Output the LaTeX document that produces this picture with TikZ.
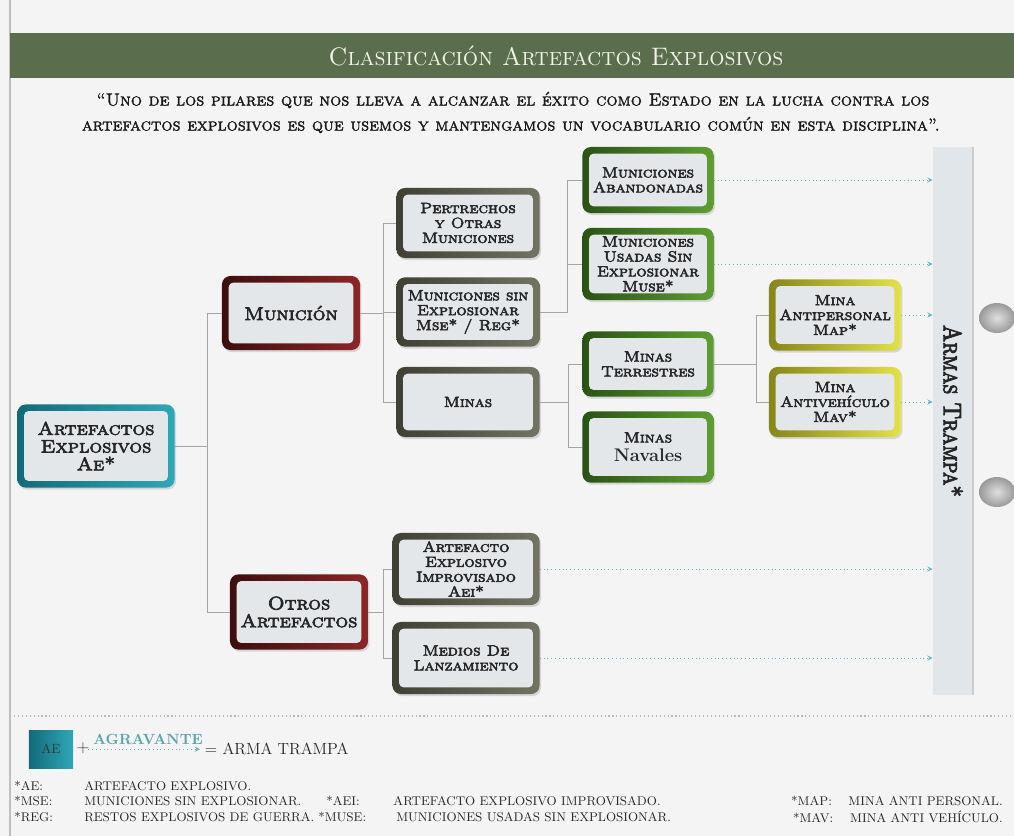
\documentclass[tikz,border=0pt]{standalone}
\usepackage[x11names]{xcolor}
\usepackage{fontspec}
\newfontfamily\boxfont{lmromancaps10-regular.otf}[AutoFakeBold=3.6, FakeStretch=1.1]
\newfontfamily\barfont{lmromancaps10-regular.otf}[AutoFakeBold=3.6, FakeStretch=0.85]
\newfontfamily\capsfont{lmromancaps10-regular.otf}[AutoFakeBold=1.6]
\newfontfamily\titlefont{lmromancaps10-regular.otf}[FakeStretch=0.95]
\usepackage{tikz}
\usetikzlibrary{shadows}
\definecolor{pagebg}{HTML}{F4F4F4}
\definecolor{headgreen}{HTML}{5A6D4C}
\definecolor{headtext}{HTML}{F2F2E6}
\definecolor{cellfill}{HTML}{E4E7EA}
\definecolor{barfill}{HTML}{E1E6EA}
\definecolor{linegray}{HTML}{A4A4A4}
\definecolor{trapteal}{HTML}{62B8BE}
\definecolor{tealA}{HTML}{136B78}
\definecolor{tealB}{HTML}{2EA8B8}
\definecolor{redA}{HTML}{3C0E0E}
\definecolor{redB}{HTML}{8C2626}
\definecolor{oliveA}{HTML}{3F3F33}
\definecolor{oliveB}{HTML}{737363}
\definecolor{greenA}{HTML}{2A5216}
\definecolor{greenB}{HTML}{5E9E32}
\definecolor{yellowA}{HTML}{86861A}
\definecolor{yellowB}{HTML}{E2E24A}
\colorlet{celltext}{black!85}
\tikzset{cell/.style = {rectangle, rounded corners=6pt, align=center, text=celltext, inner sep=2pt, font=\boxfont\bfseries\fontsize{10.5}{10.6}\selectfont, drop shadow={opacity=.25, shadow xshift=1pt, shadow yshift=-1.5pt}, path picture={\fill[cellfill, rounded corners=3pt] ([shift={(4.8pt,-4.8pt)}]path picture bounding box.north west) rectangle ([shift={(-4.8pt,4.8pt)}]path picture bounding box.south east);}}}
\tikzset{bigtext/.style = {font=\boxfont\bfseries\fontsize{13}{12.6}\selectfont}}
\tikzset{tealcell/.style = {cell, left color=tealA, right color=tealB}}
\tikzset{redcell/.style = {cell, left color=redA, right color=redB}}
\tikzset{olivecell/.style = {cell, left color=oliveA, right color=oliveB}}
\tikzset{greencell/.style = {cell, left color=greenA, right color=greenB}}
\tikzset{yellowcell/.style = {cell, left color=yellowA, right color=yellowB}}
\tikzset{branch/.style = {draw=linegray, line width=.6pt}}
\tikzset{trap/.style = {draw=trapteal, dotted, line width=.7pt, ->, >=stealth}}
\tikzset{note/.style = {inner sep=0pt, text=black!85, font=\fontsize{9}{9}\selectfont}}

\begin{document}
\begin{tikzpicture}[x=0.025cm, y=-0.025cm]
	\clip (0,0) rectangle (1014,836);
	\fill[pagebg] (0,0) rectangle (1014,836);
	\draw[gray!50, line width=.8pt] (10,0) -- (10,836);
	\fill[headgreen] (10,33) rectangle (1014,78);
	\node[text=headtext, font=\titlefont\fontsize{18}{18}\selectfont] (title) at (556,56) {Clasificación Artefactos Explosivos};
	\node[text=black!90, font=\capsfont\bfseries\fontsize{12.5}{13}\selectfont] (quotea) at (513,100) {“Uno de los pilares que nos lleva a alcanzar el éxito como Estado en la lucha contra los};
	\node[text=black!90, font=\capsfont\bfseries\fontsize{12.5}{13}\selectfont] (quoteb) at (511,125) {artefactos explosivos es que usemos y mantengamos un vocabulario común en esta disciplina”.};
	% armas trampa
	\node[rotate=-90, fill=barfill, minimum width=13.7cm, minimum height=1cm, inner sep=0pt, text=celltext, font=\barfont\bfseries\fontsize{18}{18}\selectfont] (trampa) at (953,421) {Armas Trampa*\hspace*{.5cm}};
	\draw[gray!40, line width=1.2pt] (trampa.north west) -- (trampa.north east);
	\shade[inner color=gray!25, outer color=gray!80] (997,318) ellipse (18 and 15);
	\shade[inner color=gray!25, outer color=gray!80] (997,492) ellipse (18 and 15);
	% cells
	\node[tealcell, bigtext, minimum width=3.93cm, minimum height=2.08cm] (ae) at (96,446) {Artefactos\\Explosivos\\Ae*};
	\node[redcell, bigtext, minimum width=3.45cm, minimum height=1.85cm] (municion) at (291,313) {Munición};
	\node[redcell, bigtext, minimum width=3.45cm, minimum height=1.88cm] (otros) at (299,612) {Otros\\Artefactos};
	\node[olivecell, minimum width=3.58cm, minimum height=1.75cm] (pertrechos) at (468,223) {Pertrechos\\y Otras\\Municiones};
	\node[olivecell, minimum width=3.58cm, minimum height=1.73cm] (mse) at (468,312) {Municiones sin\\Explosionar\\Mse* / Reg*};
	\node[olivecell, minimum width=3.58cm, minimum height=1.75cm] (minas) at (468,402) {Minas};
	\node[greencell, minimum width=3.28cm, minimum height=1.65cm] (abandon) at (648,180) {Municiones\\Abandonadas};
	\node[greencell, minimum width=3.28cm, minimum height=1.8cm] (usadas) at (648,264) {Municiones\\Usadas Sin\\Explosionar\\Muse*};
	\node[greencell, minimum width=3.28cm, minimum height=1.63cm] (terrestres) at (648,364) {Minas\\Terrestres};
	\node[greencell, minimum width=3.28cm, minimum height=1.78cm] (navales) at (648,447) {Minas\\[3pt]{\rmfamily\bfseries\fontsize{13}{13}\selectfont Navales}};
	\node[yellowcell, minimum width=3.3cm, minimum height=1.78cm] (antiper) at (835,315) {Mina\\Antipersonal\\Map*};
	\node[yellowcell, minimum width=3.3cm, minimum height=1.75cm] (antiveh) at (835,402) {Mina\\Antivehículo\\Mav*};
	\node[olivecell, minimum width=3.68cm, minimum height=1.8cm] (aei) at (466,569) {Artefacto\\Explosivo\\Improvisado\\Aei*};
	\node[olivecell, minimum width=3.68cm, minimum height=1.8cm] (medios) at (466,658) {Medios De\\Lanzamiento};
	% branches
	\draw[branch] (ae.east) -- ++(33,0) |- (municion.west);
	\draw[branch] (ae.east) -- ++(33,0) |- (otros.west);
	\draw[branch] (municion.east) -- ++(23,0) |- (pertrechos.west);
	\draw[branch] (municion.east) -- ++(23,0) |- (mse.west);
	\draw[branch] (municion.east) -- ++(23,0) |- (minas.west);
	\draw[branch] (mse.east) -- ++(28,0) |- (abandon.west);
	\draw[branch] (mse.east) -- ++(28,0) |- (usadas.west);
	\draw[branch] (minas.east) -- ++(29,0) |- (terrestres.west);
	\draw[branch] (minas.east) -- ++(29,0) |- (navales.west);
	\draw[branch] (terrestres.east) -- ++(43,0) |- (antiper.west);
	\draw[branch] (terrestres.east) -- ++(43,0) |- (antiveh.west);
	\draw[branch] (otros.east) -- ++(15,0) |- (aei.west);
	\draw[branch] (otros.east) -- ++(15,0) |- (medios.west);
	% to armas trampa
	\draw[trap] (abandon.east) -- (abandon.east -| trampa.south);
	\draw[trap] (usadas.east) -- (usadas.east -| trampa.south);
	\draw[trap] (antiper.east) -- (antiper.east -| trampa.south);
	\draw[trap] (antiveh.east) -- (antiveh.east -| trampa.south);
	\draw[trap] (aei.east) -- (aei.east -| trampa.south);
	\draw[trap] (medios.east) -- (medios.east -| trampa.south);
	% legend
	\draw[gray!55, dotted, line width=.8pt] (10,716) -- (1014,716);
	\node[left color=tealA, right color=tealB, minimum width=1.1cm, minimum height=.95cm, text=black!80, font=\fontsize{9.5}{9.5}\selectfont] (aesq) at (51,749) {AE};
	\node[text=black!75, font=\fontsize{12}{12}\selectfont] (plus) at (83,748) {+};
	\node[text=trapteal!90!black, font=\bfseries\fontsize{10.5}{10.5}\selectfont] (agr) at (148,739) {AGRAVANTE};
	\node[anchor=west, text=black!85, font=\fontsize{11.5}{11.5}\selectfont] (equal) at (200,749) {= ARMA TRAMPA};
	\draw[trap] (agr.south west) -- (agr.south west -| equal.west);
	\node[note, anchor=west] (fae) at (14,786) {\makebox[1.75cm][l]{*AE:}ARTEFACTO EXPLOSIVO.};
	\node[note, anchor=west] (fmse) at (14,801) {\makebox[1.75cm][l]{*MSE:}MUNICIONES SIN EXPLOSIONAR.};
	\node[note, anchor=west] (freg) at (14,817) {\makebox[1.75cm][l]{*REG:}RESTOS EXPLOSIVOS DE GUERRA.};
	\node[note, anchor=west] (faei) at (326,801) {\makebox[1.68cm][l]{*AEI:}ARTEFACTO EXPLOSIVO IMPROVISADO.};
	\node[note, anchor=west] (fmuse) at (318,817) {\makebox[1.95cm][l]{*MUSE:}MUNICIONES USADAS SIN EXPLOSIONAR.};
	\node[note, anchor=east] (fmap) at (1003,801) {\makebox[1.43cm][l]{*MAP:}MINA ANTI PERSONAL.};
	\node[note, anchor=east] (fmav) at (1003,817) {\makebox[1.43cm][l]{*MAV:}MINA ANTI VEHÍCULO.};
\end{tikzpicture}
\end{document}
